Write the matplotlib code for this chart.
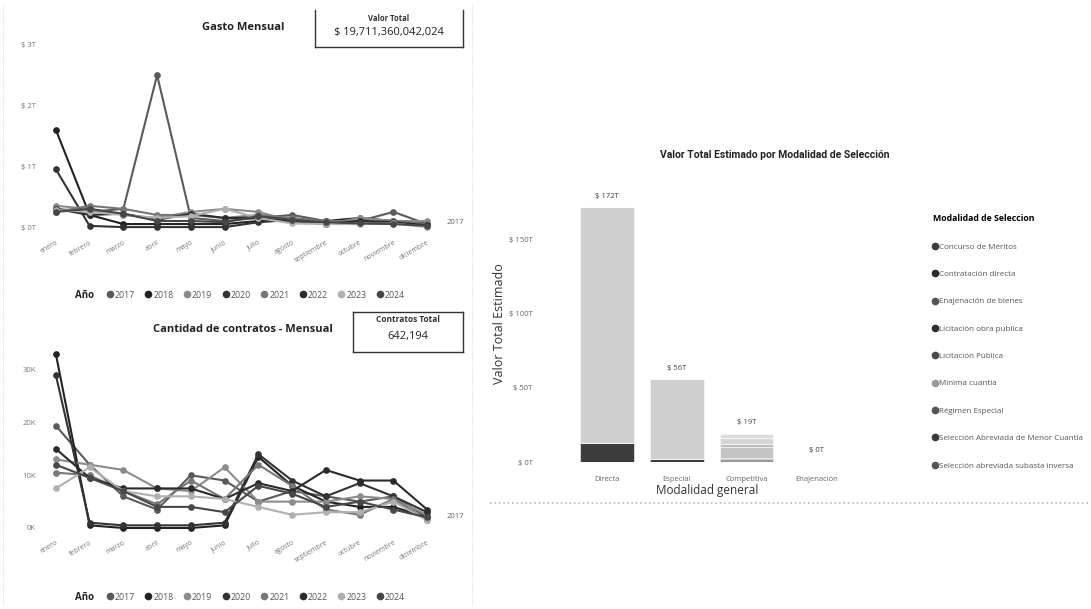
import matplotlib
matplotlib.use("Agg")
import matplotlib.pyplot as plt
from matplotlib.lines import Line2D

W, H = 1091, 609

months = ["enero", "febrero", "marzo", "abril", "mayo", "junio", "julio",
          "agosto", "septiembre", "octubre", "noviembre", "diciembre"]
years = ["2017", "2018", "2019", "2020", "2021", "2022", "2023", "2024"]
year_colors = ["#5a5a5a", "#222222", "#8c8c8c", "#333333",
               "#777777", "#2b2b2b", "#b0b0b0", "#474747"]

# gasto mensual, billones (T)
gasto = {
    "2017": [0.30, 0.25, 0.30, 2.50, 0.15, 0.10, 0.15, 0.20, 0.10, 0.10, 0.25, 0.05],
    "2018": [1.60, 0.20, 0.05, 0.05, 0.05, 0.05, 0.10, 0.10, 0.10, 0.15, 0.10, 0.05],
    "2019": [0.35, 0.30, 0.20, 0.15, 0.25, 0.30, 0.25, 0.10, 0.05, 0.15, 0.10, 0.10],
    "2020": [0.95, 0.02, 0.00, 0.00, 0.00, 0.00, 0.08, 0.12, 0.08, 0.10, 0.08, 0.03],
    "2021": [0.25, 0.35, 0.30, 0.20, 0.20, 0.15, 0.20, 0.15, 0.10, 0.10, 0.10, 0.05],
    "2022": [0.30, 0.20, 0.22, 0.12, 0.22, 0.15, 0.15, 0.10, 0.05, 0.10, 0.08, 0.03],
    "2023": [0.28, 0.25, 0.20, 0.15, 0.18, 0.30, 0.15, 0.06, 0.05, 0.05, 0.06, 0.00],
    "2024": [0.25, 0.30, 0.22, 0.10, 0.10, 0.08, 0.18, 0.12, 0.08, 0.06, 0.05, 0.02],
}

# cantidad de contratos mensual, miles (K)
contratos = {
    "2017": [19.4, 12.0, 6.0, 3.5, 10.0, 9.0, 5.0, 7.0, 6.0, 5.0, 6.0, 2.0],
    "2018": [33.0, 0.5, 0.0, 0.0, 0.0, 0.5, 13.5, 8.0, 5.0, 4.0, 4.0, 2.0],
    "2019": [13.0, 12.0, 11.0, 7.5, 7.0, 11.5, 5.0, 5.0, 5.0, 6.0, 5.5, 2.5],
    "2020": [29.0, 1.0, 0.5, 0.5, 0.5, 1.0, 14.0, 9.0, 6.0, 8.5, 6.0, 3.0],
    "2021": [10.5, 10.0, 7.0, 4.5, 9.0, 5.5, 12.0, 8.0, 3.5, 2.5, 5.5, 1.5],
    "2022": [15.0, 9.5, 7.5, 7.5, 7.5, 5.5, 8.5, 7.0, 11.0, 9.0, 9.0, 3.5],
    "2023": [7.5, 11.5, 7.0, 6.0, 6.0, 5.5, 4.0, 2.5, 3.0, 3.0, 5.0, 1.5],
    "2024": [12.0, 9.5, 7.0, 4.0, 4.0, 3.0, 8.0, 6.5, 4.0, 5.0, 3.5, 2.0],
}

modalidad_general = ["Directa", "Especial", "Competitiva", "Enajenación"]
modalidad_seleccion = ["Concurso de Méritos", "Contratación directa",
                       "Enajenación de bienes", "Licitación obra pública",
                       "Licitación Pública", "Mínima cuantía", "Régimen Especial",
                       "Selección Abreviada de Menor Cuantía",
                       "Selección abreviada subasta inversa"]
sel_colors = ["#9a9a9a", "#3c3c3c", "#6a6a6a", "#303030", "#c4c4c4",
              "#bdbdbd", "#cfcfcf", "#d6d6d6", "#dcdcdc"]
legend_colors = ["#3a3a3a", "#2a2a2a", "#555555", "#2f2f2f", "#4a4a4a",
                 "#9a9a9a", "#555555", "#3a3a3a", "#555555"]
# valor estimado (T) por modalidad general x modalidad de seleccion
valor = {
    "Concurso de Méritos":                  [0, 0, 2.0, 0],
    "Contratación directa":                 [13, 2, 0, 0],
    "Enajenación de bienes":                [0, 0, 0, 0.2],
    "Licitación obra pública":              [0, 0, 1.0, 0],
    "Licitación Pública":                   [0, 0, 7.0, 0],
    "Mínima cuantía":                       [0, 0, 2.0, 0],
    "Régimen Especial":                     [159, 54, 0, 0],
    "Selección Abreviada de Menor Cuantía": [0, 0, 4.0, 0],
    "Selección abreviada subasta inversa":  [0, 0, 3.0, 0],
}
bar_labels = ["$ 172T", "$ 56T", "$ 19T", "$ 0T"]


def box(x0, y0, x1, y1):
    # pixel box (top-left origin) -> figure fraction rect
    return [x0 / W, 1 - y1 / H, (x1 - x0) / W, (y1 - y0) / H]


def fy(y):
    return 1 - y / H


fig = plt.figure(figsize=(W / 100, H / 100), dpi=100)
fig.patch.set_facecolor("white")
plt.rcParams["font.family"] = ["Open Sans", "DejaVu Sans"]


def line_panel(ax, data, ylim, yticks, ylabels, title, title_y, legend_y, end_y):
    x = list(range(len(months)))
    for yr, col in zip(years, year_colors):
        ax.plot(x, data[yr], color=col, lw=1.5, marker="o", ms=3.8,
                mfc=col, mec=col, zorder=3)
    ax.set_xlim(-0.47, 11.53)
    ax.set_ylim(*ylim)
    ax.set_yticks(yticks)
    ax.set_yticklabels(ylabels, fontsize=5.5, color="#777777")
    ax.set_xticks(x)
    ax.set_xticklabels(months, rotation=30, ha="right", fontsize=5,
                       color="#777777", rotation_mode="anchor")
    ax.tick_params(length=0, pad=3)
    for s in ax.spines.values():
        s.set_visible(False)
    fig.text(243 / W, fy(title_y), title, ha="center", va="center",
             fontsize=8, fontweight="bold", color="#222222")
    fig.text(455 / W, fy(end_y), "2017", ha="center", va="center",
             fontsize=5.5, color="#666666")
    fig.text(85 / W, fy(legend_y), "Año", ha="center", va="center",
             fontsize=7, fontweight="bold", color="#222222")
    handles = [Line2D([], [], ls="none", marker="o", ms=4.5, color=c)
               for c in year_colors]
    fig.legend(handles, years, loc="center", ncol=8, frameon=False,
               bbox_to_anchor=(256 / W, fy(legend_y)), fontsize=6.3,
               handlelength=0.6, handletextpad=0.25, columnspacing=1.25,
               labelcolor="#555555")


ax1 = fig.add_axes(box(40, 35, 445, 235))
line_panel(ax1, gasto, (-0.13, 3.16), [0, 1, 2, 3],
           ["$ 0T", "$ 1T", "$ 2T", "$ 3T"], "Gasto Mensual", 27, 295, 222)

ax2 = fig.add_axes(box(40, 345, 445, 535))
line_panel(ax2, contratos, (-1.33, 34.7), [0, 10, 20, 30],
           ["0K", "10K", "20K", "30K"], "Cantidad de contratos - Mensual",
           329, 597, 517)

# tarjetas
c1 = fig.add_axes(box(315, 10, 463, 47))
c1.set_xticks([])
c1.set_yticks([])
c1.spines["top"].set_visible(False)
for s in c1.spines.values():
    s.set_color("#333333")
    s.set_linewidth(1.0)
c1.text(0.5, 0.78, "Valor Total", ha="center", va="center", fontsize=5.5,
        fontweight="bold", color="#333333", transform=c1.transAxes)
c1.text(0.5, 0.38, "$ 19,711,360,042,024", ha="center", va="center",
        fontsize=8, color="#222222", transform=c1.transAxes)

c2 = fig.add_axes(box(353, 312, 463, 352))
c2.set_xticks([])
c2.set_yticks([])
for s in c2.spines.values():
    s.set_color("#333333")
    s.set_linewidth(1.0)
c2.text(0.5, 0.8, "Contratos Total", ha="center", va="center", fontsize=6,
        fontweight="bold", color="#333333", transform=c2.transAxes)
c2.text(0.5, 0.38, "642,194", ha="center", va="center", fontsize=8,
        color="#222222", transform=c2.transAxes)

# bordes tenues del panel izquierdo
for xp in (3, 472):
    fig.add_artist(Line2D([xp / W, xp / W], [fy(5), fy(605)], ls=":",
                          lw=0.6, color="#cccccc"))

# barras apiladas
ax3 = fig.add_axes(box(545, 185, 870, 462))
xb = list(range(len(modalidad_general)))
bottom = [0.0] * len(modalidad_general)
for name, col in zip(modalidad_seleccion, sel_colors):
    vals = valor[name]
    ax3.bar(xb, vals, width=0.77, bottom=bottom, color=col,
            edgecolor="white", linewidth=0.4)
    bottom = [b + v for b, v in zip(bottom, vals)]
for xi, tot, lab in zip(xb, bottom, bar_labels):
    ax3.text(xi, tot + 5, lab, ha="center", va="bottom", fontsize=5.5,
             color="#444444", clip_on=False)
ax3.set_xlim(-0.886, 3.77)
ax3.set_ylim(0, 187)
ax3.set_yticks([0, 50, 100, 150])
ax3.set_yticklabels(["$ 0T", "$ 50T", "$ 100T", "$ 150T"], fontsize=5.5,
                    color="#666666")
ax3.set_xticks(xb)
ax3.set_xticklabels(modalidad_general, fontsize=5.5, color="#666666")
ax3.tick_params(axis="y", length=0, pad=9)
ax3.tick_params(axis="x", length=0, pad=10)
for s in ax3.spines.values():
    s.set_visible(False)
ax3.set_ylabel("Valor Total Estimado", fontsize=9, color="#333333", labelpad=2)
ax3.set_xlabel("Modalidad general", fontsize=8.5, color="#333333", labelpad=1)
fig.text(775 / W, fy(155), "Valor Total Estimado por Modalidad de Selección",
         ha="center", va="center", fontsize=7.5, fontweight="bold",
         color="#222222", family=["Roboto", "DejaVu Sans"])

handles = [Line2D([], [], ls="none", marker="o", ms=4.5, color=c)
           for c in legend_colors]
leg = fig.legend(handles, modalidad_seleccion, loc="upper left",
                 bbox_to_anchor=(930 / W, fy(211)), frameon=False,
                 fontsize=5.8, handlelength=0.5, handletextpad=0.2,
                 labelspacing=2.45, title="Modalidad de Seleccion",
                 title_fontproperties={"size": 6.3, "weight": "bold"},
                 labelcolor="#555555", borderaxespad=0)
leg._legend_box.align = "left"

fig.add_artist(Line2D([490 / W, 1088 / W], [fy(503), fy(503)], ls=":",
                      lw=1.2, color="#bbbbbb"))

fig.savefig("out.png", dpi=100, facecolor="white")
